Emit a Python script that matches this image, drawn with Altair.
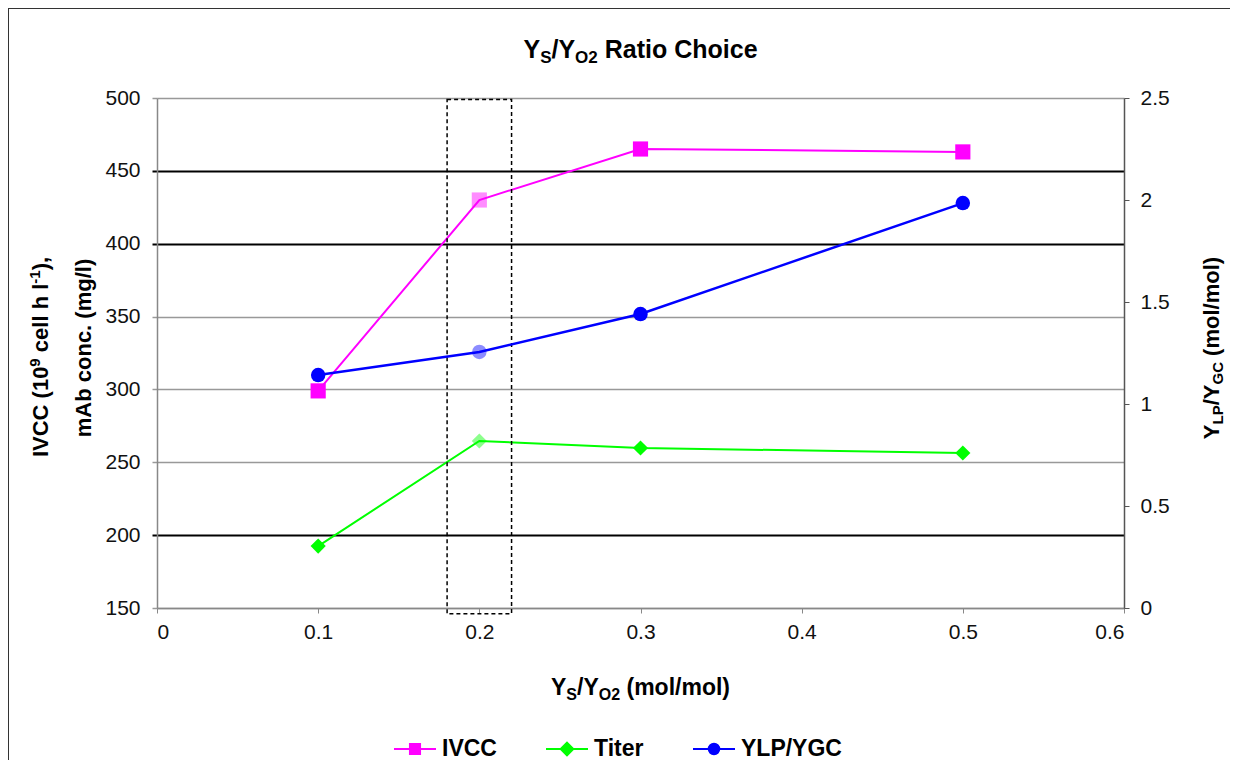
import altair as alt
import pandas as pd

# ---------------- data ----------------
x_vals = [0.1, 0.2, 0.3, 0.5]
ivcc = [299, 430, 465, 463]
titer = [192.5, 264.6, 259.8, 256.4]
ylp_ygc = [1.142, 1.255, 1.441, 1.985]

series_names = ["IVCC", "Titer", "YLP/YGC"]
series_colors = ["#FF00FF", "#00FF00", "#0000FF"]
series_shapes = ["square", "diamond", "circle"]

x_ticks = [0, 0.1, 0.2, 0.3, 0.4, 0.5, 0.6]
left_ticks = [150, 200, 250, 300, 350, 400, 450, 500]
right_ticks = [0, 0.5, 1, 1.5, 2, 2.5]
dark_grid = [450, 400, 200]

# highlighted (dashed box) region
box_x = [0.18, 0.22]
box_y = [146, 499]

rows = []
for x, a, b, c in zip(x_vals, ivcc, titer, ylp_ygc):
    rows.append({"x": x, "v": a, "series": "IVCC"})
    rows.append({"x": x, "v": b, "series": "Titer"})
    rows.append({"x": x, "v": c, "series": "YLP/YGC"})
df = pd.DataFrame(rows)

FONT = "Liberation Sans"
W = 967
H = 510

xscale = alt.Scale(domain=[0, 0.6], nice=False, zero=False)
yl_scale = alt.Scale(domain=[150, 500], nice=False, zero=False)
yr_scale = alt.Scale(domain=[0, 2.5], nice=False, zero=False)
cscale = alt.Scale(domain=series_names, range=series_colors)
sscale = alt.Scale(domain=series_names, range=series_shapes)

grid_test = " || ".join(f"datum.value == {v}" for v in dark_grid)

x_enc = alt.X("x:Q", scale=xscale, axis=alt.Axis(
    values=x_ticks, format="~g", title=None, grid=False,
    labelFontSize=21, labelPadding=8, tickSize=5,
    domainColor="#888888", tickColor="#888888", domainWidth=1.5))

left_axis = alt.Axis(
    values=left_ticks, title=None, orient="left",
    labelFontSize=21, labelPadding=12, tickSize=5,
    domainColor="#888888", domainWidth=1.5,
    grid=True,
    gridColor={"condition": {"test": grid_test, "value": "#000000"}, "value": "#999999"},
    gridWidth={"condition": {"test": grid_test, "value": 2}, "value": 1.5},
    tickColor={"condition": {"test": grid_test, "value": "#000000"}, "value": "#999999"},
    tickWidth={"condition": {"test": grid_test, "value": 2}, "value": 1.5},
)
right_axis = alt.Axis(
    values=right_ticks, format="~g", title=None, orient="right",
    labelFontSize=21, labelPadding=11, tickSize=5, grid=False,
    domainColor="#555555", tickColor="#555555", domainWidth=1.5)

point_opacity = alt.condition("datum.x == 0.2", alt.value(0.45), alt.value(1.0))

base_left = alt.Chart(df).transform_filter("datum.series != 'YLP/YGC'")
left_line = base_left.mark_line(strokeWidth=2).encode(
    x=x_enc,
    y=alt.Y("v:Q", scale=yl_scale, axis=left_axis),
    color=alt.Color("series:N", scale=cscale, legend=None),
    detail="series:N",
)
left_pts = base_left.mark_point(filled=True, size=230).encode(
    x=alt.X("x:Q", scale=xscale),
    y=alt.Y("v:Q", scale=yl_scale),
    color=alt.Color("series:N", scale=cscale, legend=None),
    shape=alt.Shape("series:N", scale=sscale, legend=None),
    opacity=point_opacity,
)
box = alt.Chart(pd.DataFrame({"x0": [box_x[0]], "x1": [box_x[1]],
                              "y0": [box_y[0]], "y1": [box_y[1]]})).mark_rect(
    fillOpacity=0, stroke="#000000", strokeWidth=1.5, strokeDash=[4, 3], clip=False
).encode(
    x=alt.X("x0:Q", scale=xscale),
    x2="x1:Q",
    y=alt.Y("y0:Q", scale=yl_scale),
    y2="y1:Q",
)
left_group = alt.layer(left_line, left_pts, box)

base_right = alt.Chart(df).transform_filter("datum.series == 'YLP/YGC'")
right_line = base_right.mark_line(strokeWidth=2.5).encode(
    x=alt.X("x:Q", scale=xscale),
    y=alt.Y("v:Q", scale=yr_scale, axis=right_axis),
    color=alt.Color("series:N", scale=cscale, legend=None),
)
right_pts = base_right.mark_point(filled=True, size=210).encode(
    x=alt.X("x:Q", scale=xscale),
    y=alt.Y("v:Q", scale=yr_scale),
    color=alt.Color("series:N", scale=cscale, legend=None),
    shape=alt.Shape("series:N", scale=sscale, legend=None),
    opacity=point_opacity,
)
right_group = alt.layer(right_line, right_pts)

# ---------------- legend (line + marker symbols) ----------------
legend_paths = [
    "M-1,0L1,0M-0.24,-0.24L0.24,-0.24L0.24,0.24L-0.24,0.24Z",
    "M-1,0L1,0M0,-0.3L0.3,0L0,0.3L-0.3,0Z",
    "M-1,0L1,0M-0.25,0A0.25,0.25,0,1,0,0.25,0A0.25,0.25,0,1,0,-0.25,0Z",
]
leg = alt.Legend(title=None, orient="none", legendX=236, legendY=629,
                 direction="horizontal", symbolSize=1764, symbolStrokeWidth=2,
                 symbolOpacity=1,
                 labelFontSize=23, labelFontWeight="bold", labelFont=FONT,
                 labelColor="#000000", labelOffset=5, columnPadding=45, padding=0)
legend_layer = alt.Chart(df).transform_filter("false").mark_point(
    filled=True, strokeWidth=2, opacity=1).encode(
    fill=alt.Fill("series:N", scale=alt.Scale(domain=series_names, range=series_colors), legend=leg),
    stroke=alt.Stroke("series:N", scale=alt.Scale(domain=series_names, range=series_colors), legend=leg),
    shape=alt.Shape("series:N", scale=alt.Scale(domain=series_names, range=legend_paths), legend=leg),
)

# ---------------- composite texts (subscripts / superscripts) ----------------
AW = {" ": 278, "(": 333, ")": 333, "/": 278, ".": 278, ",": 278, "-": 333,
      "Y": 667, "S": 667, "O": 778, "L": 611, "P": 667, "G": 778, "C": 722,
      "R": 722, "I": 278, "V": 667, "A": 722,
      "a": 556, "t": 333, "i": 278, "o": 611, "h": 611, "c": 556, "e": 556,
      "m": 889, "l": 278, "b": 611, "n": 611, "g": 611}


def tw(s, size):
    return sum(AW.get(ch, 556) for ch in s) * size / 1000.0


one = alt.Data(values=[{"k": 1}])


def hpieces(segs, cx, base_y):
    total = sum(tw(t, s) for t, s, _ in segs)
    x = cx - total / 2
    out = []
    for t, s, dy in segs:
        lead = len(t) - len(t.lstrip(" "))
        x += tw(" " * lead, s)
        body = t.lstrip(" ")
        out.append(alt.Chart(one).mark_text(
            text=body, align="left", baseline="alphabetic", font=FONT,
            fontSize=s, fontWeight="bold", color="#000000").encode(
            x=alt.value(x), y=alt.value(base_y + dy)))
        x += tw(body, s)
    return out


def vpieces(segs, cy, base_x):
    total = sum(tw(t, s) for t, s, _ in segs)
    y = cy + total / 2
    out = []
    for t, s, dx in segs:
        lead = len(t) - len(t.lstrip(" "))
        y -= tw(" " * lead, s)
        body = t.lstrip(" ")
        out.append(alt.Chart(one).mark_text(
            text=body, align="left", baseline="alphabetic", font=FONT, angle=270,
            fontSize=s, fontWeight="bold", color="#000000").encode(
            x=alt.value(base_x + dx), y=alt.value(y)))
        y -= tw(body, s)
    return out


texts = []
texts += hpieces([("Y", 25, 0), ("S", 17, 5), ("/Y", 25, 0), ("O2", 17, 5),
                  (" Ratio Choice", 25, 0)], W / 2, -40)
texts += hpieces([("Y", 23, 0), ("S", 16, 5), ("/Y", 23, 0), ("O2", 16, 5),
                  (" (mol/mol)", 23, 0)], W / 2, 597)
texts += vpieces([("Y", 22, 0), ("LP", 15, 4), ("/Y", 22, 0), ("GC", 15, 4),
                  (" (mol/mol)", 22, 0)], 250, 1062)
texts += vpieces([("IVCC (10", 22, 0), ("9", 15, -8), (" cell h l", 22, 0),
                  ("-1", 15, -8), ("),", 22, 0)], 259, -109)
texts += vpieces([("mAb conc. (mg/l)", 22, 0)], 250, -66)

frame = alt.Chart(one).mark_rect(fillOpacity=0, stroke="#333333", strokeWidth=2, clip=False).encode(
    x=alt.value(-149), x2=alt.value(1150), y=alt.value(-90), y2=alt.value(720))

chart = alt.layer(
    left_group, right_group, legend_layer, frame, *texts
).resolve_scale(
    y="independent", color="independent", shape="independent",
    fill="independent", stroke="independent"
).properties(
    width=W, height=H,
    autosize=alt.AutoSizeParams(type="none"),
    padding={"left": 149, "top": 90, "right": 106, "bottom": 152},
    background="white",
).configure_view(stroke=None).configure_axis(
    labelFont=FONT, labelColor="#111111"
)

chart.save("out.html", embed_options={"renderer": "svg", "actions": False})
